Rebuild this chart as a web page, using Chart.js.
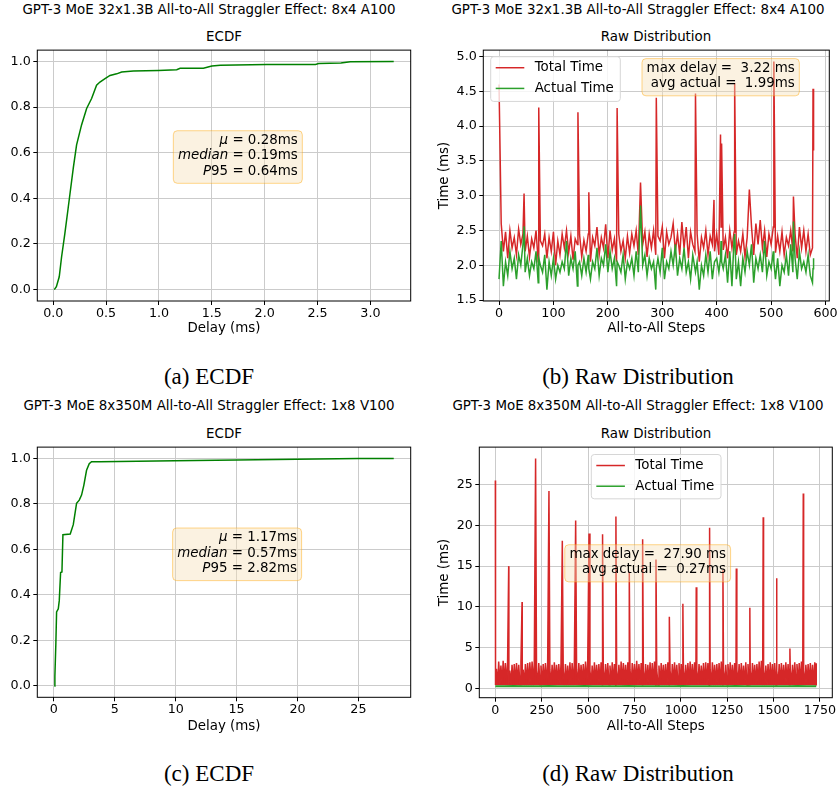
<!DOCTYPE html>
<html>
<head>
<meta charset="utf-8">
<script src="https://cdn.jsdelivr.net/npm/chart.js@4.4.1/dist/chart.umd.min.js"></script>
<style>
  body { margin: 0; background: #fff; width: 839px; height: 786px; position: relative; overflow: hidden; font-family: 'DejaVu Sans', sans-serif; }
  canvas { position: absolute; }
  .t { position: absolute; white-space: nowrap; transform: translate(-50%, -50%); color: #000; line-height: 1; }
  .sup { font-size: 13.4px; }
  .cap { font-family: 'Liberation Serif', 'Times New Roman', serif; font-size: 23px; }
</style>
</head>
<body>
<div class="t sup" style="left:209px;top:10px">GPT-3 MoE 32x1.3B All-to-All Straggler Effect: 8x4 A100</div>
<div class="t sup" style="left:638px;top:10px">GPT-3 MoE 32x1.3B All-to-All Straggler Effect: 8x4 A100</div>
<div class="t sup" style="left:224px;top:37px">ECDF</div>
<div class="t sup" style="left:656px;top:37px">Raw Distribution</div>
<canvas id="ecdfA" width="420" height="300" style="left:0;top:40px"></canvas>
<canvas id="rawB" width="419" height="300" style="left:420px;top:40px"></canvas>
<div class="t cap" style="left:209px;top:376px">(a) ECDF</div>
<div class="t cap" style="left:638px;top:376px">(b) Raw Distribution</div>

<div class="t sup" style="left:209px;top:406px">GPT-3 MoE 8x350M All-to-All Straggler Effect: 1x8 V100</div>
<div class="t sup" style="left:638px;top:406px">GPT-3 MoE 8x350M All-to-All Straggler Effect: 1x8 V100</div>
<div class="t sup" style="left:224px;top:434px">ECDF</div>
<div class="t sup" style="left:656px;top:434px">Raw Distribution</div>
<canvas id="ecdfC" width="420" height="300" style="left:0;top:437px"></canvas>
<canvas id="rawD" width="419" height="300" style="left:420px;top:437px"></canvas>
<div class="t cap" style="left:209px;top:773px">(c) ECDF</div>
<div class="t cap" style="left:638px;top:773px">(d) Raw Distribution</div>

<script>
// ---------- data ----------

// (a) ECDF, 32x1.3B on 8x4 A100
const ecdfDelayA = [0.01, 0.03, 0.057, 0.079, 0.11, 0.142, 0.158, 0.19, 0.221, 0.268, 0.316, 0.363, 0.41, 0.442, 0.49,
    0.537, 0.6, 0.647, 0.758, 0.995, 1.168, 1.2, 1.42, 1.5, 1.58, 2.02, 2.48, 2.51, 2.72, 2.81, 3.22];
const ecdfProbA = [0, 0.013, 0.056, 0.143, 0.245, 0.36, 0.418, 0.534, 0.635, 0.722, 0.794, 0.838, 0.896, 0.91, 0.925,
    0.939, 0.946, 0.954, 0.958, 0.961, 0.964, 0.97, 0.971, 0.98, 0.984, 0.987, 0.987, 0.991, 0.994, 0.999, 1.0];
const statsA = [0.28, 0.19, 0.64]; // mu, median, P95 (ms)

// (c) ECDF, 8x350M on 1x8 V100
const ecdfDelayC = [0.03, 0.08, 0.16, 0.22, 0.36, 0.44, 0.55, 0.66, 0.74, 1.34, 1.59, 1.86, 2.08, 2.27, 2.46, 2.68,
    2.9, 3.09, 3.78, 9.94, 15.0, 19.9, 25.0, 27.9];
const ecdfProbC = [0, 0.042, 0.187, 0.325, 0.339, 0.375, 0.499, 0.501, 0.665, 0.668, 0.709, 0.803, 0.817, 0.839, 0.883,
    0.948, 0.977, 0.986, 0.986, 0.99, 0.993, 0.997, 1.0, 1.0];
const statsC = [1.17, 0.57, 2.82];

// (b) raw times, sampled every 4 steps (step 0, 4, ... 576), plus the spikes
const sampleStepB = 4;
const totalB = [
    4.60, 2.60, 2.20, 2.48, 2.10, 2.50, 2.25, 2.40, 2.15, 2.52,
    2.30, 2.45, 2.20, 2.42, 2.12, 2.38, 2.25, 2.50, 2.05, 2.35,
    2.28, 2.45, 2.10, 2.40, 2.20, 2.48, 2.00, 2.35, 2.15, 2.45,
    2.25, 2.50, 2.18, 2.42, 2.08, 2.38, 2.30, 2.44, 2.12, 2.36,
    2.20, 2.45, 2.05, 2.40, 2.28, 2.55, 2.15, 2.40, 2.25, 2.59,
    2.10, 2.50, 2.22, 2.38, 2.05, 2.45, 2.20, 2.35, 2.10, 2.42,
    2.18, 2.45, 2.28, 2.50, 2.15, 2.40, 2.30, 2.48, 2.12, 2.45,
    2.25, 2.50, 2.15, 2.42, 2.35, 2.55, 2.10, 2.48, 2.30, 2.40,
    2.60, 2.20, 2.45, 2.15, 2.62, 2.25, 2.55, 2.10, 2.48, 2.30,
    2.20, 2.45, 2.05, 2.40, 2.25, 2.50, 2.15, 2.42, 2.30, 2.20,
    2.45, 2.15, 2.55, 2.22, 2.40, 2.10, 2.50, 2.25, 2.48, 2.15,
    2.35, 2.20, 2.45, 2.12, 2.40, 2.28, 2.55, 2.15, 2.60, 2.30,
    2.65, 2.25, 2.50, 2.12, 2.45, 2.30, 2.55, 2.18, 2.42, 2.20,
    2.48, 2.15, 2.40, 2.28, 2.50, 2.20, 2.45, 2.10, 2.55, 2.25,
    2.50, 2.20, 2.45, 2.15, 2.25
];
const actualB = [
    1.80, 2.35, 1.70, 2.05, 1.85, 2.20, 1.95, 2.10, 1.80, 2.15,
    2.00, 2.30, 1.90, 2.10, 1.85, 2.05, 1.95, 2.20, 1.75, 2.00,
    1.90, 2.15, 1.65, 2.05, 1.85, 2.10, 1.80, 2.00, 1.90, 2.05,
    1.95, 2.35, 1.85, 2.10, 1.95, 2.20, 1.70, 2.05, 1.85, 2.10,
    1.90, 2.15, 1.80, 2.05, 1.95, 2.25, 1.85, 2.10, 2.00, 2.30,
    1.90, 2.20, 1.95, 2.10, 1.70, 2.00, 1.90, 2.15, 1.80, 2.05,
    1.95, 2.10, 1.85, 2.20, 1.90, 2.05, 2.00, 2.15, 1.85, 2.10,
    1.95, 2.05, 1.65, 2.10, 1.90, 2.25, 1.80, 2.05, 1.95, 2.20,
    2.00, 2.30, 1.85, 2.10, 1.95, 2.25, 1.90, 2.05, 1.80, 2.15,
    1.95, 2.05, 1.65, 2.00, 1.85, 2.15, 1.90, 2.20, 1.80, 2.05,
    2.10, 1.90, 2.35, 1.95, 2.15, 1.75, 2.20, 1.70, 2.40, 1.80,
    2.05, 1.70, 2.10, 1.90, 2.20, 1.85, 2.30, 1.75, 2.10, 1.95,
    2.15, 1.90, 2.35, 1.85, 2.05, 1.95, 2.20, 1.80, 2.10, 1.70,
    2.00, 1.90, 2.15, 1.85, 2.30, 1.90, 2.10, 1.80, 2.20, 1.95,
    2.05, 1.90, 2.15, 1.85, 1.75
];
const spikeStepsB  = [46, 73, 145, 165, 217, 260, 289, 361, 395, 407, 409, 433, 460, 505, 541, 577, 578];
const spikeTotalB  = [3.03, 4.27, 4.20, 3.05, 4.26, 3.19, 4.41, 4.47, 2.94, 3.88, 3.75, 4.62, 3.09, 4.93, 2.99, 4.54, 3.65];
const spikeActualB = [2.56, 2.10, 2.00, 1.95, 2.05, 2.86, 1.95, 1.90, 2.00, 2.10, 2.05, 2.45, 2.00, 2.05, 2.63, 1.95, 2.10];
const rawStatsB = [3.22, 1.99]; // max delay, avg actual (ms)

// (d) raw times: total time as min/max per 12-step bin (0..1730), plus the spikes
const binStepD = 12;
const lastStepD = 1730;
const binMaxD = [
    2.4, 3.3, 2.8, 3.4, 3.1, 3.2,   2.2, 2.9, 3.0, 3.1, 2.9, 3.2,   2.3, 3.0, 3.1, 3.2, 3.3, 3.3,
    2.2, 3.1, 2.8, 3.0, 3.1, 3.0,   2.3, 2.9, 3.2, 2.9, 3.0, 3.1,   2.2, 3.0, 2.8, 3.2, 3.1, 3.3,
    2.3, 3.1, 2.9, 3.0, 3.3, 3.4,   2.2, 2.8, 3.2, 2.9, 3.0, 3.2,   2.3, 3.0, 3.1, 2.8, 3.2, 3.0,
    2.2, 2.9, 3.3, 3.1, 2.9, 3.2,   2.3, 3.1, 3.0, 3.4, 3.0, 3.1,   2.2, 3.0, 2.9, 3.2, 3.1, 3.3,
    2.3, 2.8, 3.1, 2.9, 3.0, 3.2,   2.2, 3.0, 3.2, 2.9, 3.1, 3.0,   2.3, 2.9, 3.1, 3.3, 3.0, 3.2,
    2.2, 3.0, 2.8, 3.1, 3.2, 3.1,   2.3, 3.2, 2.9, 3.0, 3.1, 3.3,   2.2, 2.9, 3.0, 3.2, 2.9, 3.1,
    2.3, 3.0, 3.1, 2.8, 3.2, 3.0,   2.2, 3.1, 2.9, 3.0, 3.3, 3.4,   2.3, 2.8, 3.0, 3.2, 3.0, 3.1,
    2.2, 3.0, 3.1, 2.9, 3.2, 3.0,   2.3, 2.9, 3.2, 3.0, 3.1, 3.3,   2.2, 2.9, 3.0, 3.1, 2.9, 3.2,
    3.1
];
// lowest total time inside each 72-step period
const periodMinD = [0.42, 0.45, 0.40, 0.44, 0.43, 0.41, 0.45, 0.42, 0.44, 0.40, 0.43, 0.45, 0.41,
    0.44, 0.42, 0.43, 0.40, 0.45, 0.42, 0.44, 0.41, 0.43, 0.45, 0.42, 0.44];
const spikeStepsD = [0, 72, 144, 217, 289, 361, 433, 505, 578, 650, 722, 794, 866, 938, 1011, 1083,
    1155, 1227, 1299, 1372, 1444, 1516, 1588, 1660];
const spikeTotalD = [25.5, 15.0, 10.6, 28.2, 24.2, 18.1, 20.6, 19.0, 18.9, 21.1, 14.3, 18.3, 15.8, 8.8, 10.4, 12.4,
    19.7, 14.5, 14.7, 9.9, 21.0, 13.5, 4.9, 23.9];
// actual time every 48 steps
const actualStepD = 48;
const actualD = [0.28, 0.27, 0.29, 0.26, 0.28, 0.27, 0.30, 0.27, 0.26, 0.28, 0.29, 0.27, 0.28, 0.26, 0.27, 0.29,
    0.28, 0.27, 0.26, 0.28, 0.27, 0.29, 0.28, 0.26, 0.27, 0.28, 0.27, 0.29, 0.26, 0.28, 0.27, 0.28, 0.26, 0.27,
    0.29, 0.28, 0.27];
const rawStatsD = [27.90, 0.27];

// ticks
const xTicksA = [0, 0.5, 1.0, 1.5, 2.0, 2.5, 3.0];
const yTicksEcdf = [0, 0.2, 0.4, 0.6, 0.8, 1.0];
const xTicksB = [0, 100, 200, 300, 400, 500, 600];
const yTicksB = [1.5, 2.0, 2.5, 3.0, 3.5, 4.0, 4.5, 5.0];
const xTicksC = [0, 5, 10, 15, 20, 25];
const xTicksD = [0, 250, 500, 750, 1000, 1250, 1500, 1750];
const yTicksD = [0, 5, 10, 15, 20, 25];

// ---------- drawing ----------
const RED = '#d62728', GREEN = '#2ca02c', ECDF_GREEN = '#008000';
const FONT = "'DejaVu Sans', sans-serif";
Chart.defaults.font.family = FONT;
Chart.defaults.color = '#000';

// matplotlib-like 5% margins
function limits(arrs) {
    const all = [].concat(...arrs);
    const lo = Math.min(...all), hi = Math.max(...all), m = (hi - lo) * 0.05;
    return [lo - m, hi + m];
}

function pts(xs, ys) { return xs.map((x, i) => ({ x: x, y: ys[i] })); }

// baseline samples + spikes, merged by step
function merge(step, base, spikeSteps, spikeVals) {
    const m = new Map();
    base.forEach((v, i) => m.set(i * step, v));
    spikeSteps.forEach((s, k) => m.set(s, spikeVals[k]));
    return [...m.keys()].sort((a, b) => a - b).map(k => ({ x: k, y: m.get(k) }));
}

const ecdfA = pts(ecdfDelayA, ecdfProbA);
const ecdfC = pts(ecdfDelayC, ecdfProbC);
const totalPtsB = merge(sampleStepB, totalB, spikeStepsB, spikeTotalB);
const actualPtsB = merge(sampleStepB, actualB, spikeStepsB, spikeActualB);

const totalPtsD = (function () {
    const m = new Map();
    binMaxD.forEach((v, i) => {
        const s0 = i * binStepD;
        m.set(Math.min(s0 + 1, lastStepD), periodMinD[Math.floor(i / 6)]);
        m.set(Math.min(s0 + 6, lastStepD), v);
    });
    spikeStepsD.forEach((s, k) => m.set(s, spikeTotalD[k]));
    return [...m.keys()].sort((a, b) => a - b).map(k => ({ x: k, y: m.get(k) }));
})();
const actualPtsD = actualD.map((v, i) => ({ x: Math.min(i * actualStepD, lastStepD), y: v }));
actualPtsD.push({ x: lastStepD, y: actualD[actualD.length - 1] });

function roundRect(ctx, x, y, w, h, r) {
    ctx.beginPath();
    ctx.moveTo(x + r, y);
    ctx.arcTo(x + w, y, x + w, y + h, r);
    ctx.arcTo(x + w, y + h, x, y + h, r);
    ctx.arcTo(x, y + h, x, y, r);
    ctx.arcTo(x, y, x + w, y, r);
    ctx.closePath();
}

function drawBox(ctx, a, b) {
    const up = '13.4px ' + FONT, it = 'italic 13.4px ' + FONT;
    const widths = b.lines.map(segs => segs.reduce((w, s) => {
        ctx.font = s.it ? it : up;
        return w + ctx.measureText(s.t).width;
    }, 0));
    const maxW = Math.max(...widths);
    const right = a.left + b.right, top0 = a.top + b.top, lh = 15.4;
    const bx = right - maxW - 4.6, by = top0 - 9.8;
    const bw = maxW + 9.2, bh = (b.lines.length - 1) * lh + 9.8 + 12;
    roundRect(ctx, bx, by, bw, bh, 4);
    ctx.fillStyle = 'rgba(245,222,179,0.4)';
    ctx.fill();
    ctx.strokeStyle = 'rgba(255,165,0,0.45)';
    ctx.lineWidth = 1;
    ctx.stroke();
    ctx.fillStyle = '#000';
    ctx.textBaseline = 'middle';
    ctx.textAlign = 'left';
    b.lines.forEach((segs, i) => {
        let x = right - widths[i];
        segs.forEach(s => {
            ctx.font = s.it ? it : up;
            ctx.fillText(s.t, x, top0 + i * lh);
            x += ctx.measureText(s.t).width;
        });
    });
}

function drawLegend(ctx, a, lg) {
    const bx = a.left + lg.x, by = a.top + lg.y;
    roundRect(ctx, bx, by, lg.w, lg.h, 3);
    ctx.fillStyle = 'rgba(255,255,255,0.8)';
    ctx.fill();
    ctx.strokeStyle = '#d6d6d6';
    ctx.lineWidth = 1;
    ctx.stroke();
    ctx.font = '13.4px ' + FONT;
    ctx.textBaseline = 'middle';
    ctx.textAlign = 'left';
    lg.items.forEach((item, i) => {
        const y = by + 11 + i * 20.7;
        ctx.beginPath();
        ctx.moveTo(bx + 5, y);
        ctx.lineTo(bx + 33.6, y);
        ctx.strokeStyle = item.color;
        ctx.lineWidth = 1.5;
        ctx.stroke();
        ctx.fillStyle = '#000';
        ctx.fillText(item.label, bx + 44, y);
    });
}

const decorPlugin = {
    id: 'decor',
    afterDatasetsDraw(chart, args, o) {
        const { ctx, chartArea: a } = chart;
        ctx.save();
        if (o.box) drawBox(ctx, a, o.box);
        if (o.legend) drawLegend(ctx, a, o.legend);
        ctx.strokeStyle = '#000';
        ctx.lineWidth = 1;
        ctx.strokeRect(a.left, a.top, a.width, a.height);
        ctx.restore();
    }
};

function scale(o) {
    return {
        type: 'linear',
        min: o.lim[0],
        max: o.lim[1],
        afterBuildTicks: s => { s.ticks = o.ticks.map(v => ({ value: v })); },
        afterFit: s => {
            if (o.w !== undefined) s.width = o.w;
            if (o.h !== undefined) s.height = o.h;
        },
        ticks: {
            callback: v => v.toFixed(o.dec),
            font: { size: 12.7 },
            color: '#000',
            padding: o.h !== undefined ? 1 : 2.5,
            maxRotation: 0,
            autoSkip: false
        },
        grid: { color: '#cbcbcb', lineWidth: 1, tickLength: 4, tickColor: '#000', tickWidth: 1 },
        border: { display: false },
        title: {
            display: !!o.title,
            text: o.title,
            font: { size: 13.4 },
            color: '#000',
            padding: o.titlePad || 0
        }
    };
}

function panel(id, datasets, xs, ys, padding, decor) {
    return new Chart(document.getElementById(id), {
        type: 'line',
        data: { datasets: datasets },
        options: {
            responsive: false,
            animation: false,
            layout: { padding: padding },
            plugins: { legend: { display: false }, tooltip: { enabled: false }, decor: decor },
            scales: { x: scale(xs), y: scale(ys) },
            elements: { point: { radius: 0 }, line: { borderWidth: 1.5, tension: 0 } }
        },
        plugins: [decorPlugin]
    });
}

function ecdfLines(s) {
    return [
        [{ t: 'μ', it: true }, { t: ' = ' + s[0].toFixed(2) + 'ms' }],
        [{ t: 'median', it: true }, { t: ' = ' + s[1].toFixed(2) + 'ms' }],
        [{ t: 'P', it: true }, { t: '95 = ' + s[2].toFixed(2) + 'ms' }]
    ];
}
function rawLines(s) {
    return [
        [{ t: 'max delay =  ' + s[0].toFixed(2) + ' ms' }],
        [{ t: 'avg actual =  ' + s[1].toFixed(2) + 'ms' }]
    ];
}
const legendItems = [{ label: 'Total Time', color: RED }, { label: 'Actual Time', color: GREEN }];

// (a)
panel('ecdfA',
    [{ data: ecdfA, borderColor: ECDF_GREEN }],
    { lim: limits([ecdfDelayA]), ticks: xTicksA, dec: 1, h: 39, title: 'Delay (ms)', titlePad: { top: 0, bottom: 3 } },
    { lim: limits([ecdfProbA]), ticks: yTicksEcdf, dec: 1, w: 37.3 },
    { left: 0, top: 7.3, right: 9.3, bottom: 0 },
    { box: { right: 260.4, top: 90.4, lines: ecdfLines(statsA) } });

// (b)
panel('rawB',
    [{ data: totalPtsB, borderColor: RED, order: 1 },
     { data: actualPtsB, borderColor: GREEN, order: 0 }],
    { lim: limits([totalPtsB.map(p => p.x)]), ticks: xTicksB, dec: 0, h: 39, title: 'All-to-All Steps', titlePad: { top: 0, bottom: 3 } },
    { lim: limits([totalB, actualB, spikeTotalB]), ticks: yTicksB, dec: 1, w: 63.3, title: 'Time (ms)', titlePad: { top: 16.5, bottom: 0 } },
    { left: 0, top: 7.7, right: 9.7, bottom: 0 },
    { box: { right: 311.4, top: 18.3, lines: rawLines(rawStatsB) },
      legend: { x: 7.4, y: 6.6, w: 129.6, h: 44.7, items: legendItems } });

// (c)
panel('ecdfC',
    [{ data: ecdfC, borderColor: ECDF_GREEN }],
    { lim: limits([ecdfDelayC]), ticks: xTicksC, dec: 0, h: 39.7, title: 'Delay (ms)', titlePad: { top: 0, bottom: 2 } },
    { lim: limits([ecdfProbC]), ticks: yTicksEcdf, dec: 1, w: 37.3 },
    { left: 0, top: 7.3, right: 9.3, bottom: 0 },
    { box: { right: 259.7, top: 90.7, lines: ecdfLines(statsC) } });

// (d) the dense total-time trace is drawn as a filled min/max band
panel('rawD',
    [{ data: totalPtsD, borderColor: RED, backgroundColor: RED, fill: { value: Math.min(...periodMinD) }, order: 1 },
     { data: actualPtsD, borderColor: GREEN, order: 0, borderWidth: 2 }],
    { lim: limits([totalPtsD.map(p => p.x)]), ticks: xTicksD, dec: 0, h: 39.3, title: 'All-to-All Steps', titlePad: { top: 0, bottom: 2 } },
    { lim: limits([actualD, spikeTotalD]), ticks: yTicksD, dec: 0, w: 59.3, title: 'Time (ms)', titlePad: { top: 16.5, bottom: 0 } },
    { left: 0, top: 7.3, right: 6.7, bottom: 0 },
    { box: { right: 246.7, top: 107.4, lines: rawLines(rawStatsD) },
      legend: { x: 112, y: 7.4, w: 129.7, h: 44.3, items: legendItems } });
</script>
</body>
</html>
